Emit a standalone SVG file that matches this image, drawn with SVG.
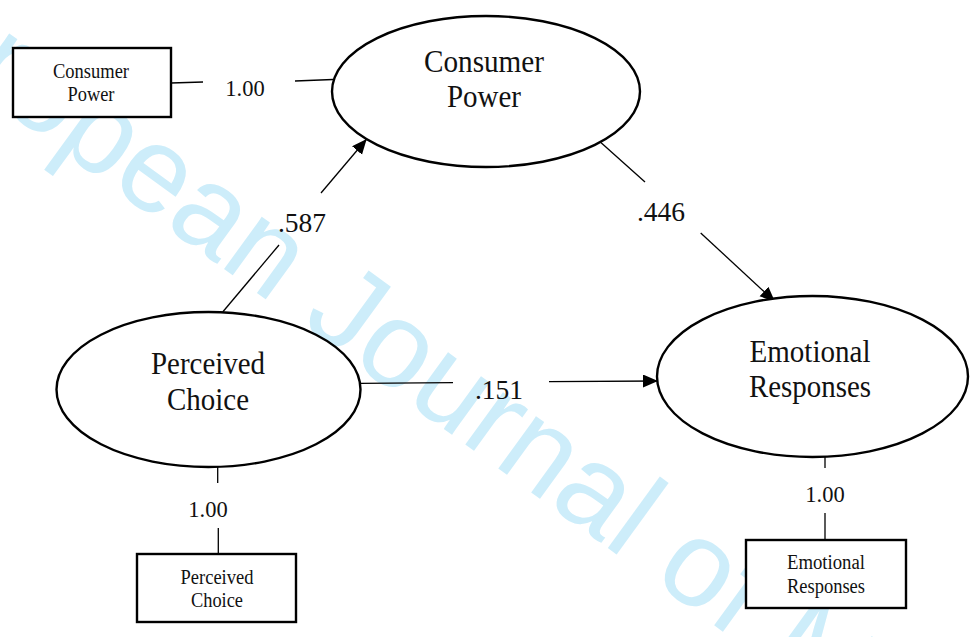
<svg xmlns="http://www.w3.org/2000/svg" width="973" height="637" viewBox="0 0 973 637">
<defs>
<marker id="arr" markerUnits="userSpaceOnUse" markerWidth="16" markerHeight="14" refX="15" refY="6.5" orient="auto">
<path d="M0,0 L15,6.5 L0,13 Z" fill="#000"/>
</marker>
<style>
.lat{fill:#fff;stroke:#000;stroke-width:2.4}
.box{fill:#fff;stroke:#000;stroke-width:2.4}
.lt{font-family:"Liberation Serif","Times New Roman",serif;font-size:32px;fill:#111;text-anchor:middle}
.bt{font-family:"Liberation Serif","Times New Roman",serif;font-size:20px;fill:#111;text-anchor:middle}
.ml{font-family:"Liberation Serif","Times New Roman",serif;font-size:22.5px;fill:#111;text-anchor:middle}
.pl{font-family:"Liberation Serif","Times New Roman",serif;font-size:27.5px;fill:#111;text-anchor:middle}
.c{stroke:#000;stroke-width:1.3;fill:none}
.wm{font-family:"Liberation Sans",Arial,sans-serif;font-size:122px;fill:#cdedfa}
</style>
</defs>
<rect width="973" height="637" fill="#fff"/>
<text class="wm" transform="translate(-156,-7) rotate(36)">European Journal of Marketing</text>
<g id="connectors">
<line class="c" x1="171" y1="83" x2="203" y2="82"/>
<line class="c" x1="295" y1="81" x2="333" y2="79.5"/>
<line class="c" x1="222.7" y1="312" x2="279" y2="245"/>
<line class="c" x1="321" y1="193" x2="366.7" y2="139" marker-end="url(#arr)"/>
<line class="c" x1="600" y1="141.7" x2="645" y2="182"/>
<line class="c" x1="700.7" y1="233" x2="775" y2="301.7" marker-end="url(#arr)"/>
<line class="c" x1="360" y1="383.3" x2="453" y2="382.7"/>
<line class="c" x1="549" y1="381.7" x2="658" y2="381" marker-end="url(#arr)"/>
<line class="c" x1="217.7" y1="467" x2="217.7" y2="483"/>
<line class="c" x1="218.3" y1="528" x2="218.3" y2="554"/>
<line class="c" x1="825" y1="457" x2="825" y2="468"/>
<line class="c" x1="825" y1="513" x2="825" y2="540"/>
<text class="ml" x="245" y="96">1.00</text>
<text class="pl" x="302" y="232">.587</text>
<text class="pl" x="661" y="221">.446</text>
<text class="pl" x="499" y="399">.151</text>
<text class="ml" x="208" y="517">1.00</text>
<text class="ml" x="825" y="502">1.00</text>
</g>
<g id="consumer-power">
<ellipse class="lat" cx="486" cy="91.5" rx="154" ry="75.5"/>
<text class="lt" x="484" y="72" textLength="120" lengthAdjust="spacingAndGlyphs">Consumer</text>
<text class="lt" x="484" y="107" textLength="74" lengthAdjust="spacingAndGlyphs">Power</text>
</g>
<g id="perceived-choice">
<ellipse class="lat" cx="208.5" cy="389.5" rx="152" ry="77.5"/>
<text class="lt" x="208" y="374" textLength="114" lengthAdjust="spacingAndGlyphs">Perceived</text>
<text class="lt" x="208" y="410" textLength="82" lengthAdjust="spacingAndGlyphs">Choice</text>
</g>
<g id="emotional-responses">
<ellipse class="lat" cx="812.5" cy="376.5" rx="155.5" ry="80.5"/>
<text class="lt" x="810" y="362" textLength="121" lengthAdjust="spacingAndGlyphs">Emotional</text>
<text class="lt" x="810" y="397" textLength="122" lengthAdjust="spacingAndGlyphs">Responses</text>
</g>
<g id="consumer-power-indicator">
<rect class="box" x="13" y="48" width="158" height="69"/>
<text class="bt" x="91" y="78" textLength="76" lengthAdjust="spacingAndGlyphs">Consumer</text>
<text class="bt" x="91" y="101" textLength="47" lengthAdjust="spacingAndGlyphs">Power</text>
</g>
<g id="perceived-choice-indicator">
<rect class="box" x="137" y="554" width="159" height="68"/>
<text class="bt" x="217" y="584" textLength="73" lengthAdjust="spacingAndGlyphs">Perceived</text>
<text class="bt" x="217" y="607" textLength="52" lengthAdjust="spacingAndGlyphs">Choice</text>
</g>
<g id="emotional-responses-indicator">
<rect class="box" x="746" y="540" width="160" height="68"/>
<text class="bt" x="826" y="569" textLength="78" lengthAdjust="spacingAndGlyphs">Emotional</text>
<text class="bt" x="826" y="593" textLength="78" lengthAdjust="spacingAndGlyphs">Responses</text>
</g>
</svg>
